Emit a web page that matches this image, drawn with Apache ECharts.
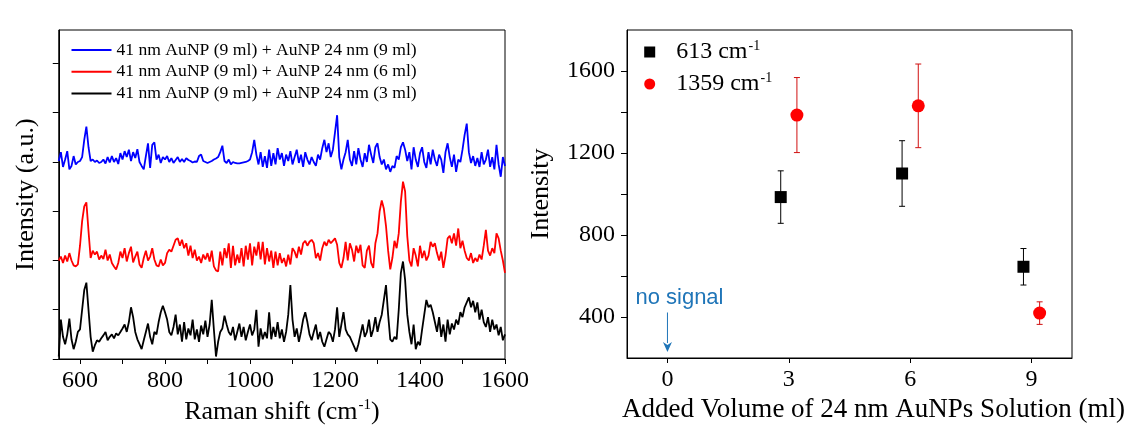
<!DOCTYPE html>
<html>
<head>
<meta charset="utf-8">
<script src="https://cdn.jsdelivr.net/npm/echarts@6/dist/echarts.min.js"></script>
<style>
html,body{margin:0;padding:0;background:#fff;}
#c{width:1142px;height:440px;}
</style>
</head>
<body>
<div id="c"></div>
<script>
// ---------- Left panel: Raman spectra (550–1600 cm-1, sampled every 5 cm-1) ----------
const ramanStart = 550;
const ramanStep = 5;
const ramanTicks = [600, 700, 800, 900, 1000, 1100, 1200, 1300, 1400, 1500, 1600];
const ramanLabels = [600, 800, 1000, 1200, 1400, 1600];
const offsetTicks = [0, 1, 2, 3, 4, 5, 6];

const seriesNames = [
  '41 nm AuNP (9 ml) + AuNP 24 nm (9 ml)',
  '41 nm AuNP (9 ml) + AuNP 24 nm (6 ml)',
  '41 nm AuNP (9 ml) + AuNP 24 nm (3 ml)'
];

const spec9ml = [
4.02,4.20,3.90,4.05,4.22,3.85,3.92,4.12,3.95,4.00,
4.02,4.10,4.45,4.72,4.30,4.02,4.05,4.00,4.03,3.98,
4.00,4.05,3.97,4.10,3.99,4.12,4.00,4.08,3.96,4.18,
4.05,4.22,4.10,4.25,4.02,4.20,4.08,4.26,4.00,3.92,
3.85,4.12,4.38,3.88,4.35,4.40,4.05,4.15,3.98,4.10,
4.05,4.12,4.00,4.08,3.98,4.04,4.10,4.00,4.06,4.00,
4.08,4.04,4.02,3.99,4.01,4.00,4.12,4.15,4.02,4.00,
3.98,4.00,4.02,4.05,4.07,4.10,4.20,4.33,4.02,3.98,
4.05,3.95,4.00,3.98,3.97,3.97,3.98,3.99,4.00,4.02,
4.05,4.20,4.45,4.15,3.95,4.20,3.90,4.12,3.88,4.25,
3.92,4.18,3.95,4.28,4.05,4.18,3.92,4.15,4.02,4.22,
3.95,4.10,4.25,3.98,4.15,3.90,4.20,4.05,3.95,4.10,
4.00,3.92,4.15,4.05,4.28,4.45,4.20,4.38,4.10,4.25,
4.60,4.95,4.10,3.85,4.05,4.20,4.45,4.05,3.92,4.22,
3.95,4.28,4.05,3.90,4.18,4.00,4.35,4.15,3.98,4.30,
4.38,4.10,3.95,4.05,3.85,3.95,3.80,3.92,3.88,4.12,
4.05,4.30,4.40,4.25,4.02,4.20,3.85,4.30,4.05,3.90,
4.18,4.30,4.00,3.88,4.20,3.95,4.25,4.05,3.92,4.15,
4.05,3.78,4.20,4.38,4.10,3.90,4.15,3.80,4.05,4.00,
4.25,4.55,4.78,4.20,3.98,4.12,3.92,4.08,3.90,4.20,
3.95,4.05,4.25,3.90,4.10,3.85,4.35,3.95,3.70,4.10,
3.92
];

const spec6ml = [
2.00,2.08,1.95,2.10,1.98,2.15,2.00,1.90,1.88,1.92,
2.30,2.80,3.10,3.18,2.60,2.05,2.20,2.12,2.18,2.02,
2.10,2.03,2.22,2.00,2.12,1.95,1.88,1.82,1.95,2.18,
2.05,2.25,1.98,2.15,2.28,1.96,2.08,2.18,1.92,1.85,
2.05,2.20,2.00,2.08,2.25,2.02,1.90,1.88,2.02,1.90,
1.95,2.15,2.22,2.18,2.30,2.42,2.45,2.30,2.42,2.25,
2.35,2.10,2.30,2.05,2.22,2.00,2.08,1.95,2.12,2.02,
2.15,1.98,2.20,1.88,1.80,1.78,2.18,1.90,2.25,2.05,
2.35,1.85,2.30,1.90,2.12,1.95,2.25,1.88,2.30,2.02,
2.35,1.90,2.28,2.10,2.38,2.02,2.38,1.92,2.25,1.98,
2.20,1.85,2.18,1.90,2.15,1.95,2.05,1.88,2.12,1.92,
2.25,2.18,2.05,2.28,2.12,2.35,2.40,2.30,2.38,2.42,
2.35,2.05,2.15,2.00,2.25,2.38,2.30,2.42,2.35,2.40,
2.45,2.32,1.95,1.85,2.05,2.38,2.00,2.35,2.22,1.98,
2.30,2.15,2.32,1.90,1.85,2.20,2.30,1.95,1.85,2.35,
2.55,3.00,3.22,3.05,2.70,2.20,1.82,2.05,2.40,2.25,
2.55,3.20,3.60,3.40,2.50,2.00,1.88,2.25,2.10,1.88,
2.30,2.05,2.20,2.00,2.10,2.38,2.28,2.35,2.15,2.00,
2.18,1.85,2.10,2.45,2.50,2.35,2.55,2.30,2.65,2.25,
2.40,2.20,2.05,2.00,2.15,1.95,2.05,1.98,2.12,2.02,
2.30,2.62,2.20,2.10,2.25,2.15,2.55,2.45,2.20,2.00,
1.75
];

const spec3ml = [
0.05,0.80,0.45,0.30,0.50,0.82,0.40,0.20,0.35,0.55,
0.60,1.00,1.40,1.55,1.00,0.45,0.15,0.28,0.38,0.35,
0.42,0.48,0.55,0.38,0.45,0.50,0.42,0.52,0.48,0.55,
0.62,0.70,0.55,0.75,1.05,0.85,0.55,0.40,0.30,0.20,
0.38,0.55,0.72,0.45,0.30,0.55,0.50,0.75,0.95,1.08,
0.95,0.80,0.55,0.48,0.65,0.90,0.50,0.70,0.35,0.75,
0.40,0.62,0.48,0.80,0.40,0.60,0.35,0.68,0.50,0.78,
0.45,0.70,1.20,0.60,0.05,0.35,0.55,0.62,0.88,0.70,
0.55,0.48,0.65,0.38,0.55,0.72,0.45,0.65,0.38,0.55,
0.70,0.48,0.60,1.00,0.25,0.62,0.40,0.55,0.42,0.95,
0.40,0.65,0.45,0.75,0.42,0.60,0.35,0.55,0.90,1.50,
0.80,0.45,0.62,0.35,0.55,0.80,0.95,0.75,0.50,0.38,
0.55,0.70,0.40,0.55,0.35,0.25,0.40,0.55,0.50,0.35,
0.60,1.05,0.45,0.70,0.95,0.60,0.50,0.45,0.35,0.25,
0.15,0.30,0.50,0.70,0.45,0.55,0.80,0.45,0.60,0.85,
0.55,0.75,0.90,1.20,1.50,0.90,0.40,0.35,0.45,0.40,
1.00,1.75,1.98,1.60,0.90,0.55,0.30,0.70,0.20,0.35,
0.28,0.60,0.90,1.20,1.05,1.10,0.95,0.75,0.55,0.85,
0.45,0.70,0.35,0.80,0.50,0.72,0.60,0.80,0.70,0.95,
0.85,1.05,1.15,1.25,1.05,1.18,0.95,1.15,0.80,1.00,
0.75,0.65,0.85,0.55,0.80,0.60,0.70,0.48,0.65,0.38,
0.50
];

// ---------- Right panel: peak intensity vs. added volume ----------
const volumeTicks = [0, 3, 6, 9];
const intensityTicks = [400, 600, 800, 1000, 1200, 1400, 1600];
const intensityLabels = [400, 800, 1200, 1600];

const vol613 = [2.8, 5.8, 8.8];
const int613 = [985, 1100, 645];
const err613 = [128, 160, 89];

const vol1359 = [3.2, 6.2, 9.2];
const int1359 = [1385, 1430, 419];
const err1359 = [183, 204, 55];

const noSignalAt = [0, 493];
const arrowFrom = [0, 422];
const arrowTo = [0, 229];

// ---------- build ----------
const SERIF = "'Liberation Serif','Times New Roman',serif";
const NOTE_COLOR = '#1f75b8';
const toXY = arr => arr.map((v, i) => [ramanStart + i * ramanStep, v]);
const plain = v => String(v);

function errRender(color) {
  return function (params, api) {
    const x = api.value(0), y = api.value(1), e = api.value(2);
    const top = api.coord([x, y + e]);
    const bot = api.coord([x, y - e]);
    const hw = 3;
    const st = { stroke: color, lineWidth: 1 };
    return {
      type: 'group',
      children: [
        { type: 'line', shape: { x1: top[0], y1: top[1], x2: bot[0], y2: bot[1] }, style: st },
        { type: 'line', shape: { x1: top[0] - hw, y1: top[1], x2: top[0] + hw, y2: top[1] }, style: st },
        { type: 'line', shape: { x1: bot[0] - hw, y1: bot[1], x2: bot[0] + hw, y2: bot[1] }, style: st }
      ]
    };
  };
}

function arrowRender(params, api) {
  const a = api.coord([api.value(0), api.value(1)]);
  const b = api.coord([api.value(2), api.value(3)]);
  const headH = 10, headW = 4.5;
  return {
    type: 'group',
    children: [
      { type: 'line', shape: { x1: a[0], y1: a[1], x2: b[0], y2: b[1] - headH + 1 },
        style: { stroke: NOTE_COLOR, lineWidth: 1 } },
      { type: 'polygon', shape: { points: [[b[0], b[1]], [b[0] - headW, b[1] - headH], [b[0], b[1] - headH + 3], [b[0] + headW, b[1] - headH]] },
        style: { fill: NOTE_COLOR } }
    ]
  };
}

const supRich = {
  a: { fontFamily: SERIF, fontSize: 24, color: '#000', lineHeight: 26 },
  s: { fontFamily: SERIF, fontSize: 14, color: '#000', lineHeight: 26, verticalAlign: 'top', padding: [0, 0, 12, 1] }
};

const axisLineStyle = { onZero: false, lineStyle: { color: '#000', width: 1 } };

const chart = echarts.init(document.getElementById('c'), null, { renderer: 'canvas' });
chart.setOption({
  animation: false,
  backgroundColor: '#fff',
  grid: [
    { left: 58.75, right: 637, top: 30, bottom: 81, show: true, borderColor: '#000', borderWidth: 1 },
    { left: 627, right: 70, top: 30, bottom: 82, show: true, borderColor: '#000', borderWidth: 1 }
  ],
  legend: [
    {
      data: seriesNames.map(n => ({ name: n, icon: 'rect' })),
      orient: 'vertical',
      left: 71.5, top: 41, padding: 0,
      itemWidth: 40, itemHeight: 2, itemGap: 3.7,
      textStyle: { fontFamily: SERIF, fontSize: 17.6, color: '#000', lineHeight: 18 },
      selectedMode: false
    },
    {
      data: ['613', '1359'],
      orient: 'vertical',
      left: 644.2, top: 39, padding: 0,
      itemWidth: 11, itemHeight: 11, itemGap: 6,
      formatter: n => '{a|' + n + ' cm}{s|-1}',
      textStyle: { rich: supRich, padding: [0, 0, 0, 16] },
      selectedMode: false
    }
  ],
  xAxis: [
    {
      gridIndex: 0, type: 'value', min: 550, max: 1600,
      axisLine: axisLineStyle,
      axisTick: { customValues: ramanTicks, length: 5, lineStyle: { color: '#000' } },
      axisLabel: { customValues: ramanLabels, formatter: plain, fontFamily: SERIF, fontSize: 24, color: '#000', margin: 10 },
      splitLine: { show: false },
      name: '{a|Raman shift (cm}{s|-1}{a|)}',
      nameLocation: 'middle', nameGap: 34,
      nameTextStyle: { rich: {
        a: { fontFamily: SERIF, fontSize: 26, color: '#000', lineHeight: 28 },
        s: { fontFamily: SERIF, fontSize: 15, color: '#000', lineHeight: 28, verticalAlign: 'top', padding: [0, 0, 12, 1] }
      } }
    },
    {
      gridIndex: 1, type: 'value', min: -1, max: 10,
      axisLine: axisLineStyle,
      axisTick: { customValues: volumeTicks, length: 5, lineStyle: { color: '#000' } },
      axisLabel: { customValues: volumeTicks, formatter: plain, fontFamily: SERIF, fontSize: 24, color: '#000', margin: 10 },
      splitLine: { show: false },
      name: 'Added Volume of 24 nm AuNPs Solution (ml)',
      nameLocation: 'middle', nameGap: 38,
      nameTextStyle: { fontFamily: SERIF, fontSize: 27, color: '#000', padding: [0, 0, 0, 48] }
    }
  ],
  yAxis: [
    {
      gridIndex: 0, type: 'value', min: 0, max: 6.68,
      axisLine: axisLineStyle,
      axisTick: { customValues: offsetTicks, length: 6, lineStyle: { color: '#000' } },
      axisLabel: { show: false },
      splitLine: { show: false },
      name: 'Intensity (a.u.)',
      nameLocation: 'middle', nameGap: 20,
      nameTextStyle: { fontFamily: SERIF, fontSize: 26, color: '#000' }
    },
    {
      gridIndex: 1, type: 'value', min: 200, max: 1800, interval: 200,
      axisLine: axisLineStyle,
      axisTick: { customValues: intensityTicks, length: 6, lineStyle: { color: '#000' } },
      axisLabel: { customValues: intensityLabels, formatter: plain, fontFamily: SERIF, fontSize: 24, color: '#000', margin: 12 },
      splitLine: { show: false },
      name: 'Intensity',
      nameLocation: 'middle', nameGap: 73,
      nameTextStyle: { fontFamily: SERIF, fontSize: 26, color: '#000' }
    }
  ],
  series: [
    {
      name: seriesNames[0], type: 'line', xAxisIndex: 0, yAxisIndex: 0,
      data: toXY(spec9ml), showSymbol: false, symbol: 'none',
      lineStyle: { color: '#0000ff', width: 1.8 }, itemStyle: { color: '#0000ff' }
    },
    {
      name: seriesNames[1], type: 'line', xAxisIndex: 0, yAxisIndex: 0,
      data: toXY(spec6ml), showSymbol: false, symbol: 'none',
      lineStyle: { color: '#ff0000', width: 1.8 }, itemStyle: { color: '#ff0000' }
    },
    {
      name: seriesNames[2], type: 'line', xAxisIndex: 0, yAxisIndex: 0,
      data: toXY(spec3ml), showSymbol: false, symbol: 'none',
      lineStyle: { color: '#000000', width: 1.8 }, itemStyle: { color: '#000000' }
    },
    {
      name: 'err613', type: 'custom', xAxisIndex: 1, yAxisIndex: 1,
      data: vol613.map((v, i) => [v, int613[i], err613[i]]),
      renderItem: errRender('#000'), z: 1
    },
    {
      name: 'err1359', type: 'custom', xAxisIndex: 1, yAxisIndex: 1,
      data: vol1359.map((v, i) => [v, int1359[i], err1359[i]]),
      renderItem: errRender('#d01010'), z: 1
    },
    {
      name: '613', type: 'scatter', xAxisIndex: 1, yAxisIndex: 1,
      data: vol613.map((v, i) => [v, int613[i]]),
      symbol: 'rect', symbolSize: 12, itemStyle: { color: '#000', opacity: 1 }, z: 3
    },
    {
      name: '1359', type: 'scatter', xAxisIndex: 1, yAxisIndex: 1,
      data: vol1359.map((v, i) => [v, int1359[i]]),
      symbol: 'circle', symbolSize: 13, itemStyle: { color: '#ff0000', opacity: 1 }, z: 3
    },
    {
      name: 'noteArrow', type: 'custom', xAxisIndex: 1, yAxisIndex: 1, silent: true,
      data: [[arrowFrom[0], arrowFrom[1], arrowTo[0], arrowTo[1]]],
      renderItem: arrowRender, z: 2
    },
    {
      name: 'note', type: 'scatter', xAxisIndex: 1, yAxisIndex: 1,
      data: [noSignalAt], symbolSize: 0, silent: true,
      itemStyle: { opacity: 1 },
      label: {
        show: true, position: 'inside', offset: [12, 0], formatter: 'no signal',
        fontFamily: "'Liberation Sans',Arial,sans-serif", fontSize: 22, color: NOTE_COLOR
      }
    }
  ]
});
</script>
</body>
</html>
